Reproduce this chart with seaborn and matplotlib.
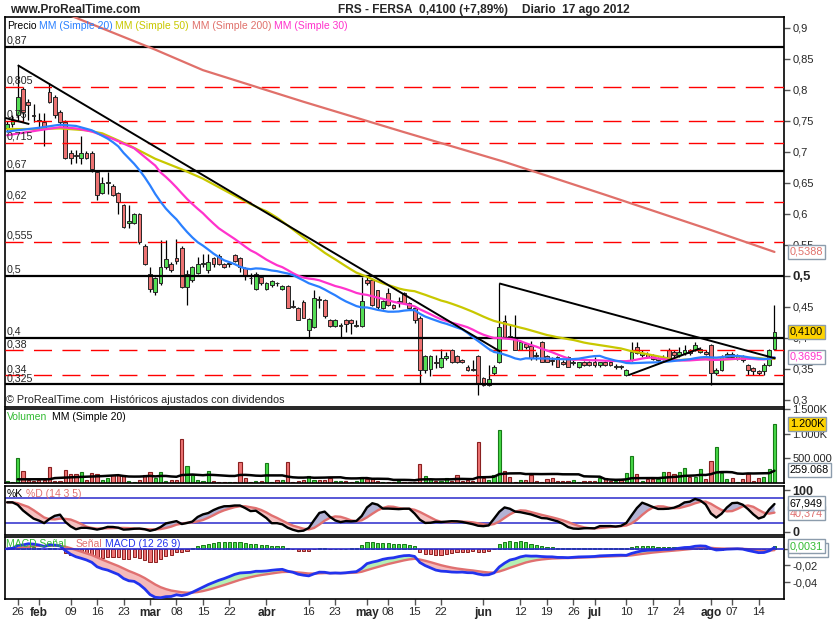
import numpy as np
import pandas as pd
import matplotlib
matplotlib.use("Agg")
import matplotlib.pyplot as plt
import matplotlib.transforms as mtrans
import seaborn as sns

sns.set_style("white")
plt.rcParams["font.family"] = ["Liberation Sans", "DejaVu Sans"]

W, H = 835, 620

# ---------------- data ----------------
holidays = ["2012-04-06", "2012-04-09", "2012-05-01"]
dates = [d.strftime("%Y-%m-%d") for d in pd.bdate_range("2012-01-24", "2012-08-17")
         if d.strftime("%Y-%m-%d") not in holidays]

opens = [.738, .745, .760, .801, .781, .760, .752, .749, .796, .789,
         .765, .749, .699, .695, .690, .699, .699, .668, .634, .650,
         .645, .634, .615, .585, .585, .600, .549, .504, .474, .488,
         .514, .519, .529, .545, .483, .494, .505, .520, .510, .529,
         .533, .519, .519, .534, .529, .513, .497, .479, .498, .479,
         .485, .489, .479, .484, .452, .448, .458, .413, .418, .462,
         .462, .429, .419, .419, .429, .429, .419, .419, .494, .494,
         .477, .448, .473, .453, .458, .472, .456, .448, .433, .348,
         .350, .362, .354, .367, .380, .371, .364, .354, .350, .371,
         .335, .324, .343, .362, .427, .403, .402, .381, .390, .387,
         .372, .393, .371, .364, .370, .362, .370, .360, .354, .361,
         .361, .361, .356, .361, .361, .354, .354, .340, .365, .385,
         .372, .374, .372, .364, .366, .381, .378, .372, .375, .380,
         .381, .378, .378, .389, .343, .348, .370, .374, .366, .369,
         .356, .352, .346, .346, .357, .383]
highs = [.750, .760, .840, .805, .785, .778, .763, .763, .811, .792,
         .767, .751, .704, .704, .725, .702, .701, .670, .660, .668,
         .648, .636, .616, .615, .601, .601, .551, .514, .499, .558,
         .558, .522, .559, .548, .510, .516, .530, .536, .535, .531,
         .535, .521, .522, .535, .530, .514, .505, .507, .501, .491,
         .494, .491, .486, .485, .462, .450, .462, .432, .478, .468,
         .463, .430, .431, .424, .430, .431, .429, .498, .498, .496,
         .478, .462, .481, .455, .466, .474, .458, .452, .435, .373,
         .372, .373, .383, .378, .382, .373, .366, .356, .364, .372,
         .337, .356, .356, .488, .437, .423, .437, .396, .392, .395,
         .378, .395, .373, .370, .371, .365, .371, .364, .362, .363,
         .363, .370, .362, .363, .363, .358, .356, .350, .393, .393,
         .380, .377, .374, .370, .372, .384, .380, .385, .389, .382,
         .393, .386, .380, .390, .352, .372, .378, .377, .374, .372,
         .358, .354, .348, .360, .382, .453]
lows = [.733, .740, .750, .749, .752, .749, .739, .710, .779, .755,
        .744, .688, .680, .682, .680, .688, .668, .623, .633, .633,
        .629, .600, .577, .578, .584, .551, .517, .474, .470, .486,
        .512, .507, .520, .481, .453, .490, .503, .515, .505, .515,
        .518, .513, .515, .522, .507, .493, .487, .478, .486, .478,
        .483, .484, .478, .448, .448, .429, .433, .401, .416, .448,
        .432, .417, .418, .400, .410, .407, .418, .418, .486, .452,
        .445, .446, .452, .447, .450, .455, .447, .424, .327, .343,
        .338, .352, .352, .364, .360, .360, .360, .346, .347, .308,
        .322, .322, .340, .360, .400, .398, .381, .380, .383, .365,
        .365, .362, .361, .357, .353, .357, .353, .356, .352, .355,
        .355, .354, .354, .355, .355, .350, .350, .338, .363, .374,
        .370, .368, .364, .362, .364, .365, .370, .370, .373, .373,
        .379, .376, .372, .324, .340, .346, .368, .368, .364, .362,
        .340, .340, .340, .340, .355, .380]
closes = [.745, .752, .789, .765, .776, .758, .750, .738, .780, .760,
          .749, .690, .690, .694, .699, .690, .673, .631, .650, .651,
          .630, .619, .579, .588, .600, .555, .519, .479, .496, .514,
          .527, .509, .524, .483, .503, .514, .519, .521, .523, .519,
          .519, .515, .520, .524, .515, .500, .496, .504, .488, .489,
          .492, .488, .484, .448, .450, .429, .433, .430, .464, .461,
          .435, .419, .429, .419, .423, .424, .420, .460, .488, .453,
          .450, .460, .453, .448, .458, .456, .448, .429, .348, .371,
          .371, .360, .367, .371, .362, .362, .362, .348, .349, .327,
          .324, .334, .354, .418, .402, .401, .381, .394, .386, .367,
          .371, .362, .362, .363, .354, .358, .354, .360, .361, .356,
          .356, .356, .361, .356, .356, .354, .353, .348, .378, .375,
          .376, .370, .366, .368, .370, .367, .372, .378, .380, .375,
          .389, .382, .374, .343, .348, .370, .374, .370, .372, .364,
          .348, .346, .343, .357, .380, .410]
volume_k = [40, 30, 500, 240, 55, 45, 55, 55, 330, 40,
            50, 270, 180, 190, 230, 60, 210, 180, 60, 110,
            160, 160, 160, 40, 20, 60, 160, 230, 110, 230,
            40, 60, 60, 890, 340, 160, 70, 40, 240, 40,
            30, 30, 20, 30, 420, 110, 30, 40, 40, 400,
            20, 70, 70, 420, 30, 40, 70, 150, 70, 70,
            70, 110, 40, 50, 40, 30, 40, 130, 80, 110,
            50, 30, 30, 30, 50, 20, 30, 30, 380, 140,
            90, 40, 50, 100, 50, 170, 50, 70, 50, 840,
            110, 70, 170, 1080, 250, 130, 30, 70, 70, 170,
            50, 30, 90, 110, 50, 50, 50, 70, 30, 40,
            40, 50, 110, 100, 50, 40, 70, 210, 550, 190,
            40, 80, 80, 80, 230, 220, 190, 230, 300, 120,
            120, 280, 80, 440, 740, 200, 90, 110, 30, 90,
            190, 50, 110, 130, 280, 1200]

# moving-average values read before the full window is available
sma20_head_idx = [0, 3, 6, 10, 13, 16, 18]
sma20_head_val = [.733, .736, .739, .744, .742, .735, .726]
sma30_head_idx = [0, 3, 6, 10, 13, 16, 20, 24, 28]
sma30_head_val = [.727, .731, .735, .740, .738, .733, .721, .706, .678]
sma50_head_idx = [0, 5, 10, 15, 18, 23, 28, 33, 37, 42, 46, 48]
sma50_head_val = [.737, .737, .738, .735, .730, .711, .689, .672, .657, .634, .616, .608]
sma200_idx = [0, 14, 28, 37, 56, 75, 94, 113, 132, 145]
sma200_val = [.962, .913, .865, .832, .781, .732, .684, .631, .577, .5388]
volma_head_idx = [2, 8, 9, 13, 18]
volma_head_val = [75, 76, 100, 120, 140]

solid_levels = [0.87, 0.67, 0.5, 0.4, 0.325]
dashed_levels = [0.805, 0.75, 0.715, 0.62, 0.555, 0.38, 0.34]

# user trend lines (index, price)
trend_lines = [([2, 93.2], [0.840, 0.378]),
               ([93, 145.2], [0.488, 0.367]),
               ([117.4, 130.9], [0.340, 0.383]),
               ([-0.4, 4.2], [0.755, 0.745])]

tick_dates = ["2012-01-26", "2012-02-01", "2012-02-09", "2012-02-16", "2012-02-23",
              "2012-03-01", "2012-03-08", "2012-03-15", "2012-03-22", "2012-04-02",
              "2012-04-16", "2012-04-23", "2012-05-02", "2012-05-08", "2012-05-15",
              "2012-05-22", "2012-06-01", "2012-06-12", "2012-06-19", "2012-06-26",
              "2012-07-02", "2012-07-10", "2012-07-17", "2012-07-24", "2012-08-01",
              "2012-08-07", "2012-08-14"]
tick_labels = ["26", "feb", "09", "16", "23", "mar", "08", "15", "22", "abr", "16", "23",
               "may", "08", "15", "22", "jun", "12", "19", "26", "jul", "10", "17", "24",
               "ago", "07", "14"]
month_labels = {"feb", "mar", "abr", "may", "jun", "jul", "ago"}

# ---------------- derived ----------------
n = len(dates)
idx = np.arange(n)
df = pd.DataFrame({"i": idx, "open": opens, "high": highs, "low": lows,
                   "close": closes, "vol": np.array(volume_k) * 1000.0})
c = df["close"]


def ma_line(window, head_idx, head_val):
    comp = c.rolling(window).mean()
    xs = list(head_idx) + list(range(window - 1, n))
    ys = list(head_val) + list(comp.iloc[window - 1:])
    return pd.DataFrame({"x": xs, "y": ys})


sma20 = ma_line(20, sma20_head_idx, sma20_head_val)
sma30 = ma_line(30, sma30_head_idx, sma30_head_val)
sma50 = ma_line(50, sma50_head_idx, sma50_head_val)
sma200 = pd.DataFrame({"x": sma200_idx, "y": sma200_val})

vcomp = df["vol"].rolling(20).mean()
volma = pd.DataFrame({"x": list(volma_head_idx) + list(range(19, n)),
                      "y": [v * 1000 for v in volma_head_val] + list(vcomp.iloc[19:])})

hh = df["high"].rolling(14, min_periods=1).max()
ll = df["low"].rolling(14, min_periods=1).min()
raw = 100 * (c - ll) / (hh - ll)
k_line = raw.rolling(3, min_periods=1).mean()
d_line = k_line.rolling(5, min_periods=1).mean()

ema12 = c.ewm(span=12, adjust=False).mean()
ema26 = c.ewm(span=26, adjust=False).mean()
macd = ema12 - ema26
signal = macd.ewm(span=9, adjust=False).mean()
hist = macd - signal

# ---------------- colours ----------------
G_FILL, G_EDGE = "#55dd55", "#1d5f1d"
R_FILL, R_EDGE = "#ec7272", "#6a2222"
BLUE20, YEL50, SAL200, MAG30 = "#2a80ff", "#c8c800", "#e0706a", "#ff33cc"
SALMON = "#e07070"
GUIDE = "#2a2acc"

# ---------------- figure ----------------
fig = plt.figure(figsize=(W / 100, H / 100), dpi=100)
fig.patch.set_facecolor("white")


def rect(x0, y0, x1, y1):
    return [x0 / W, 1 - y1 / H, (x1 - x0) / W, (y1 - y0) / H]


ax_p = fig.add_axes(rect(5, 17, 784, 407))
ax_v = fig.add_axes(rect(5, 409, 784, 483))
ax_s = fig.add_axes(rect(5, 486, 784, 535))
ax_m = fig.add_axes(rect(5, 537, 784, 599))
XL = (-0.4, 146.8)

for ax in (ax_p, ax_v, ax_s, ax_m):
    ax.set_xlim(*XL)
    ax.set_facecolor("white")
    for s in ax.spines.values():
        s.set_color("black")
        s.set_linewidth(1.2)
    ax.set_xlabel("")
    ax.set_ylabel("")
    ax.tick_params(axis="y", left=False, labelleft=False, right=True, labelright=True,
                   length=4, width=1, color="#555555", pad=2, labelsize=8)
    ax.tick_params(axis="x", bottom=False, labelbottom=False)


def fx(px):
    return px / W


def fy(py):
    return 1 - py / H


def right_box(ax, y, txt, fc, tc, ec="#8c9cac", z=10):
    tr = mtrans.blended_transform_factory(ax.transAxes, ax.transData)
    ax.text(1 + 6 / 779, y, txt, transform=tr, va="center", ha="left", fontsize=7.8,
            color=tc, clip_on=False, zorder=z,
            bbox=dict(boxstyle="square,pad=0.18", fc=fc, ec=ec, lw=1))


# ---- price panel ----
ax_p.set_ylim(0.2887, 0.9177)
up = df["close"] >= df["open"]
body_lo = np.minimum(df["open"], df["close"])
body_h = np.maximum((df["close"] - df["open"]).abs(), 0.0012)
ax_p.vlines(idx, df["low"], df["high"], color="black", lw=0.9, zorder=2)
ax_p.bar(idx, body_h, bottom=body_lo, width=0.72,
         color=np.where(up, G_FILL, R_FILL), edgecolor="#262626", linewidth=0.7, zorder=3)

for lv in solid_levels:
    ax_p.axhline(lv, color="black", lw=1.6, zorder=4)
for lv in dashed_levels:
    ax_p.axhline(lv, color="#ff0000", lw=1.0, ls=(0, (13, 7.5)), zorder=4)
tr_p = mtrans.blended_transform_factory(ax_p.transAxes, ax_p.transData)
for lv in solid_levels + dashed_levels:
    lab = ("%g" % lv).replace(".", ",")
    ax_p.annotate(lab, xy=(0, lv), xycoords=tr_p, xytext=(1.2, 0.8),
                  textcoords="offset points", ha="left", va="bottom", fontsize=7.7, zorder=6)

sns.lineplot(data=sma200, x="x", y="y", ax=ax_p, color=SAL200, lw=1.6, zorder=5)
sns.lineplot(data=sma50, x="x", y="y", ax=ax_p, color=YEL50, lw=1.6, zorder=5)
sns.lineplot(data=sma30, x="x", y="y", ax=ax_p, color=MAG30, lw=1.6, zorder=5)
sns.lineplot(data=sma20, x="x", y="y", ax=ax_p, color=BLUE20, lw=1.6, zorder=5)
for xs, ys in trend_lines:
    ax_p.plot(xs, ys, color="black", lw=1.4, zorder=6, solid_capstyle="butt")

pt = np.round(np.arange(0.30, 0.901, 0.05), 2)
ax_p.set_yticks(pt)
ax_p.set_yticklabels([("%g" % v).replace(".", ",") for v in pt])
for lab, v in zip(ax_p.get_yticklabels(), pt):
    if abs(v - 0.5) < 1e-9:
        lab.set_fontweight("bold")
        lab.set_fontsize(9.5)
ax_p.set_xlabel("")
ax_p.set_ylabel("")
right_box(ax_p, 0.5388, "0,5388", "white", SAL200)
right_box(ax_p, 0.3695, "0,3695", "white", MAG30)
right_box(ax_p, 0.4100, "0,4100", "#ffd400", "black", z=11)

# legend row + footer text
yl = fy(26)
fig.text(fx(7), yl, "Precio", fontsize=7.5, va="center", color="black")
fig.text(fx(39), yl, "MM (Simple 20)", fontsize=7.5, va="center", color=BLUE20)
fig.text(fx(115), yl, "MM (Simple 50)", fontsize=7.5, va="center", color=YEL50)
fig.text(fx(192), yl, "MM (Simple 200)", fontsize=7.5, va="center", color=SAL200)
fig.text(fx(274), yl, "MM (Simple 30)", fontsize=7.5, va="center", color=MAG30)
fig.text(fx(6), fy(400), "\u00a9 ProRealTime.com  Hist\u00f3ricos ajustados con dividendos",
         fontsize=7.8, va="center")

# header
fig.text(fx(10), fy(10), "www.ProRealTime.com", fontsize=8.6, weight="bold", va="center")
fig.text(fx(338), fy(10), "FRS - FERSA", fontsize=8.6, weight="bold", va="center")
fig.text(fx(419), fy(10), "0,4100 (+7,89%)", fontsize=8.6, weight="bold", va="center")
fig.text(fx(522), fy(10), "Diario  17 ago 2012", fontsize=8.6, weight="bold", va="center")

# ---- volume panel ----
ax_v.set_ylim(0, 1.504e6)
vup = df["close"] >= df["open"]
ax_v.bar(idx, df["vol"], width=0.6, color=np.where(vup, "#47d947", "#ee7474"),
         edgecolor=np.where(vup, "#177a17", "#8a2020"), linewidth=0.8, zorder=2)
sns.lineplot(data=volma, x="x", y="y", ax=ax_v, color="black", lw=1.8, zorder=3)
ax_v.set_yticks([5e5, 1e6, 1.5e6])
ax_v.set_yticklabels(["500.000", "1.000K", "1.500K"])
ax_v.set_xlabel("")
ax_v.set_ylabel("")
right_box(ax_v, 259068, "259.068", "white", "black")
right_box(ax_v, 1.2e6, "1.200K", "#ffd400", "black")
fig.text(fx(7), fy(417), "Volumen", fontsize=7.5, va="center", color="#33bb33")
fig.text(fx(52), fy(417), "MM (Simple 20)", fontsize=7.5, va="center", color="black")

# ---- stochastic panel ----
ax_s.set_ylim(-8.4, 110)
ax_s.axhline(80, color=GUIDE, lw=1.1, zorder=1)
ax_s.axhline(20, color=GUIDE, lw=1.1, zorder=1)
ax_s.fill_between(idx, k_line, d_line, where=k_line >= d_line, interpolate=True,
                  color="#b2b2d4", lw=0, zorder=2)
ax_s.fill_between(idx, k_line, d_line, where=k_line < d_line, interpolate=True,
                  color="#f5c2c2", lw=0, zorder=2)
stoch = pd.DataFrame({"x": idx, "k": k_line, "d": d_line})
sns.lineplot(data=stoch, x="x", y="d", ax=ax_s, color=SALMON, lw=1.7, zorder=3)
sns.lineplot(data=stoch, x="x", y="k", ax=ax_s, color="black", lw=1.7, zorder=4)
ax_s.set_yticks([0, 100])
ax_s.set_yticklabels(["0", "100"])
for lab in ax_s.get_yticklabels():
    lab.set_fontweight("bold")
    lab.set_fontsize(9)
ax_s.set_xlabel("")
ax_s.set_ylabel("")
right_box(ax_s, 44.5, "40,374", "white", SALMON, z=9)
right_box(ax_s, 67.949, "67,949", "white", "black", z=10)
fig.text(fx(7), fy(494), "%K", fontsize=7.5, va="center", color="black")
fig.text(fx(26), fy(494), "%D (14 3 5)", fontsize=7.5, va="center", color=SALMON)

# ---- MACD panel ----
ax_m.set_ylim(-0.0602, 0.0141)
hpos = hist >= 0
fig.text(fx(6), fy(544), "MACD Se\u00f1al", fontsize=7.5, va="center", color="#33bb33")
fig.text(fx(76), fy(544), "Se\u00f1al", fontsize=7.5, va="center", color=SALMON)
fig.text(fx(105), fy(544), "MACD (12 26 9)", fontsize=7.5, va="center", color="#2233ee")
ax_m.bar(idx, hist, width=0.6, color=np.where(hpos, "#47d947", "#ee7474"),
         edgecolor=np.where(hpos, "#177a17", "#8a2020"), linewidth=0.7, zorder=2)
ax_m.fill_between(idx, macd, signal, where=macd >= signal, interpolate=True,
                  color="#b4f0b4", lw=0, zorder=3)
ax_m.fill_between(idx, macd, signal, where=macd < signal, interpolate=True,
                  color="#f5baba", lw=0, zorder=3)
mdf = pd.DataFrame({"x": idx, "macd": macd, "sig": signal})
sns.lineplot(data=mdf, x="x", y="sig", ax=ax_m, color=SALMON, lw=1.7, zorder=4)
sns.lineplot(data=mdf, x="x", y="macd", ax=ax_m, color="#2233ee", lw=2.0, zorder=5)
ax_m.axhline(0, color=GUIDE, lw=1.2, zorder=6)
ax_m.set_yticks([0, -0.02, -0.04])
ax_m.set_yticklabels(["", "-0,02", "-0,04"])
right_box(ax_m, -0.0012, "-0,0011", "white", SALMON, z=9)
right_box(ax_m, 0.0031, "0,0031", "white", "#33bb33", z=10)

tick_pos = [dates.index(d) for d in tick_dates]
ax_m.set_xticks(tick_pos)
ax_m.set_xticklabels(tick_labels)
ax_m.tick_params(axis="x", bottom=True, labelbottom=True, length=4, width=1,
                 color="#555555", pad=1.5, labelsize=8.2)
for lab in ax_m.get_xticklabels():
    if lab.get_text() in month_labels:
        lab.set_fontweight("bold")
        lab.set_fontsize(8.6)
ax_m.set_xlabel("")
ax_m.set_ylabel("")

fig.savefig("out.png", dpi=100, facecolor="white")
